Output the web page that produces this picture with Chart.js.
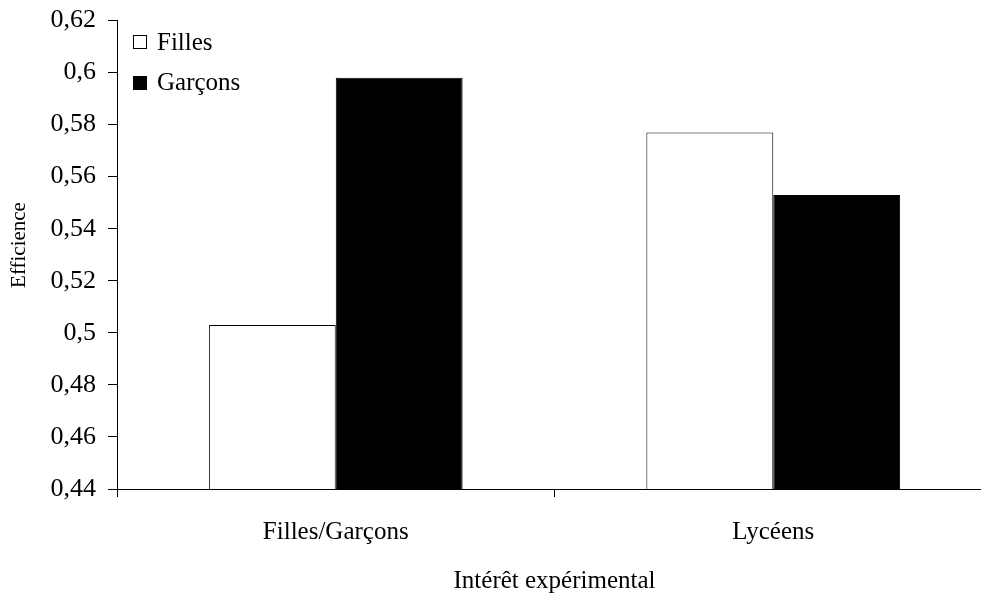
<!DOCTYPE html>
<html>
<head>
<meta charset="utf-8">
<script src="https://cdn.jsdelivr.net/npm/chart.js@4/dist/chart.umd.min.js"></script>
<style>
  html, body { margin: 0; padding: 0; background: #fff; overflow: hidden; }
  #wrap { position: relative; width: 1000px; height: 594px; }
</style>
</head>
<body>
<div id="wrap"><canvas id="c"></canvas></div>
<script>
// ---- data ----
const categories = ["Filles/Garçons", "Lycéens"];
const seriesNames = ["Filles", "Garçons"];
const fillesValues = [0.503, 0.577];
const garconsValues = [0.598, 0.553];
const yTicks = [0.44, 0.46, 0.48, 0.5, 0.52, 0.54, 0.56, 0.58, 0.6, 0.62];
const yTickLabels = ["0,44", "0,46", "0,48", "0,5", "0,52", "0,54", "0,56", "0,58", "0,6", "0,62"];
const xTitle = "Intérêt expérimental";
const yTitle = "Efficience";

const FONT = '"Liberation Serif", "Times New Roman", serif';

const legendPlugin = {
  id: 'insideLegend',
  afterDraw(chart) {
    const ctx = chart.ctx;
    ctx.save();
    // y axis title
    ctx.font = '21px ' + FONT;
    ctx.fillStyle = '#000';
    ctx.textAlign = 'center';
    ctx.textBaseline = 'middle';
    ctx.translate(19, 245);
    ctx.rotate(-Math.PI / 2);
    ctx.fillText(yTitle, 0, 0);
    ctx.restore();

    ctx.save();
    ctx.font = '25px ' + FONT;
    ctx.textBaseline = 'alphabetic';
    ctx.textAlign = 'left';
    const rows = [{boxY: 35, baseY: 50}, {boxY: 76, baseY: 90}];
    chart.data.datasets.forEach((ds, i) => {
      const r = rows[i];
      ctx.fillStyle = ds.backgroundColor;
      ctx.fillRect(133, r.boxY, 14, 14);
      ctx.strokeStyle = '#000';
      ctx.lineWidth = 1;
      ctx.strokeRect(133.5, r.boxY + 0.5, 13, 13);
      ctx.fillStyle = '#000';
      ctx.fillText(ds.label, 157, r.baseY);
    });
    ctx.restore();
  }
};

new Chart(document.getElementById('c'), {
  type: 'bar',
  data: {
    labels: categories,
    datasets: [
      { label: seriesNames[0], data: fillesValues, backgroundColor: '#ffffff', borderColor: '#000000', borderWidth: 1 },
      { label: seriesNames[1], data: garconsValues, backgroundColor: '#000000', borderColor: '#000000', borderWidth: 1 }
    ]
  },
  options: {
    responsive: true,
    maintainAspectRatio: false,
    animation: false,
    devicePixelRatio: 1,
    layout: { padding: { top: 20.5, left: 0, right: 8, bottom: 0 } },
    plugins: { legend: { display: false }, tooltip: { enabled: false } },
    datasets: { bar: { categoryPercentage: 0.58, barPercentage: 1.0 } },
    scales: {
      x: {
        offset: true,
        grid: { offset: true, drawOnChartArea: false, drawTicks: true, tickLength: 8, color: '#000', lineWidth: 1 },
        border: { display: true, color: '#000', width: 1 },
        ticks: { color: '#000', font: { family: FONT, size: 25 }, padding: 20, maxRotation: 0 },
        title: { display: true, text: xTitle, color: '#000', font: { family: FONT, size: 25, lineHeight: 1.0 }, padding: { top: 0, bottom: 0 } },
        afterFit(scale) { scale.height = 105; scale.paddingLeft = 0; scale.paddingRight = 0; }
      },
      y: {
        min: yTicks[0],
        max: yTicks[yTicks.length - 1],
        afterBuildTicks(scale) { scale.ticks = yTicks.map(v => ({ value: v })); },
        grid: { drawOnChartArea: false, drawTicks: true, tickLength: 9, color: '#000', lineWidth: 1 },
        border: { display: true, color: '#000', width: 1 },
        ticks: {
          color: '#000', font: { family: FONT, size: 26 }, padding: 12,
          callback: (v, i) => yTickLabels[i]
        },
        title: { display: false },
        afterFit(scale) { scale.width = 117; scale.paddingTop = 0; scale.paddingBottom = 0; }
      }
    }
  },
  plugins: [legendPlugin]
});
</script>
</body>
</html>
